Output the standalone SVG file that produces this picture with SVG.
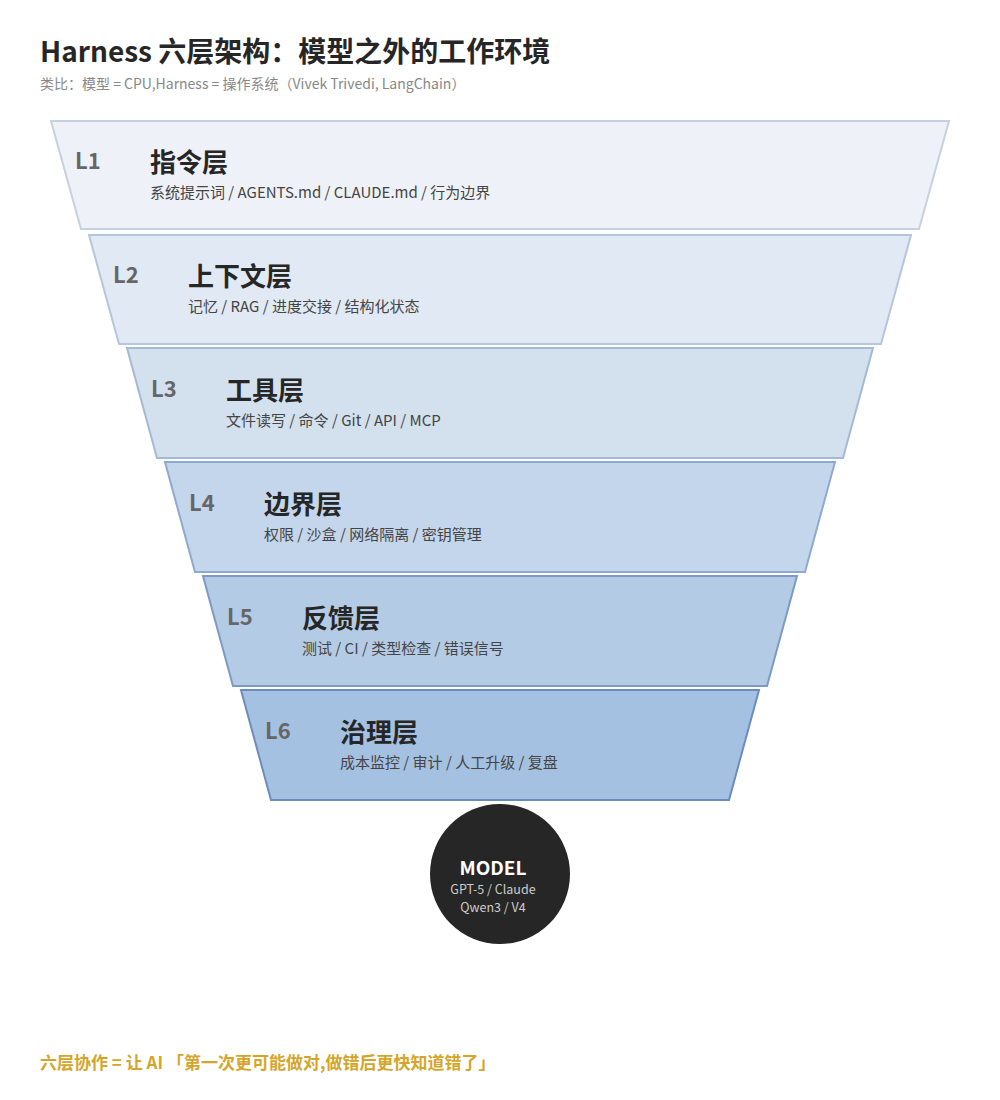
<svg xmlns="http://www.w3.org/2000/svg" width="1000" height="1100" viewBox="0 0 1000 1100">
<style>
text{font-family:"Noto Sans CJK SC","Noto Sans",sans-serif}
.lv{font-size:22px;font-weight:700;fill:#666}
.t{font-size:26px;font-weight:700;fill:#262626}
.s{font-size:15px;fill:#444}
</style>
<rect width="1000" height="1100" fill="#fff"/>
<text x="40" y="62" font-size="28" font-weight="700" fill="#262626">Harness 六层架构：模型之外的工作环境</text>
<text x="40" y="89" font-size="14" fill="#888">类比：模型 = CPU,Harness = 操作系统（Vivek Trivedi, LangChain）</text>
<g id="L1"><polygon points="51,121 949,121 919,229 81,229" fill="#eef2f8" stroke="#c6d1de" stroke-width="2"/><text class="lv" x="75" y="169">L1</text><text class="t" x="150" y="172">指令层</text><text class="s" x="150" y="198">系统提示词 / AGENTS.md / CLAUDE.md / 行为边界</text></g>
<g id="L2"><polygon points="89,235 911,235 881,344 119,344" fill="#e1e9f4" stroke="#b5c6dc" stroke-width="2"/><text class="lv" x="113" y="283">L2</text><text class="t" x="188" y="286">上下文层</text><text class="s" x="188" y="312">记忆 / RAG / 进度交接 / 结构化状态</text></g>
<g id="L3"><polygon points="127,348 873,348 843,458 157,458" fill="#d3e0ee" stroke="#a3b9d6" stroke-width="2"/><text class="lv" x="151" y="397">L3</text><text class="t" x="226" y="400">工具层</text><text class="s" x="226" y="426">文件读写 / 命令 / Git / API / MCP</text></g>
<g id="L4"><polygon points="165,462 835,462 805,572 195,572" fill="#c4d6eb" stroke="#8fa9cf" stroke-width="2"/><text class="lv" x="189" y="511">L4</text><text class="t" x="264" y="514">边界层</text><text class="s" x="264" y="540">权限 / 沙盒 / 网络隔离 / 密钥管理</text></g>
<g id="L5"><polygon points="203,576 797,576 767,686 233,686" fill="#b4cbe5" stroke="#7d9ac7" stroke-width="2"/><text class="lv" x="227" y="625">L5</text><text class="t" x="302" y="628">反馈层</text><text class="s" x="302" y="654">测试 / CI / 类型检查 / 错误信号</text></g>
<g id="L6"><polygon points="241,690 759,690 729,800 271,800" fill="#a4c1e1" stroke="#6c8cc0" stroke-width="2"/><text class="lv" x="265" y="739">L6</text><text class="t" x="340" y="742">治理层</text><text class="s" x="340" y="768">成本监控 / 审计 / 人工升级 / 复盘</text></g>
<g id="model"><circle cx="500" cy="874" r="70" fill="#262626"/><text x="493" y="875" text-anchor="middle" font-size="19" font-weight="700" fill="#fff">MODEL</text><text x="493" y="894" text-anchor="middle" font-size="12.5" fill="#ccc">GPT-5 / Claude</text><text x="493" y="912" text-anchor="middle" font-size="12.5" fill="#ccc">Qwen3 / V4</text></g>
<g id="connectors"></g>
<text x="40" y="1069" font-size="17" font-weight="700" fill="#d4a52a">六层协作 = 让 AI 「第一次更可能做对,做错后更快知道错了」</text>
</svg>
